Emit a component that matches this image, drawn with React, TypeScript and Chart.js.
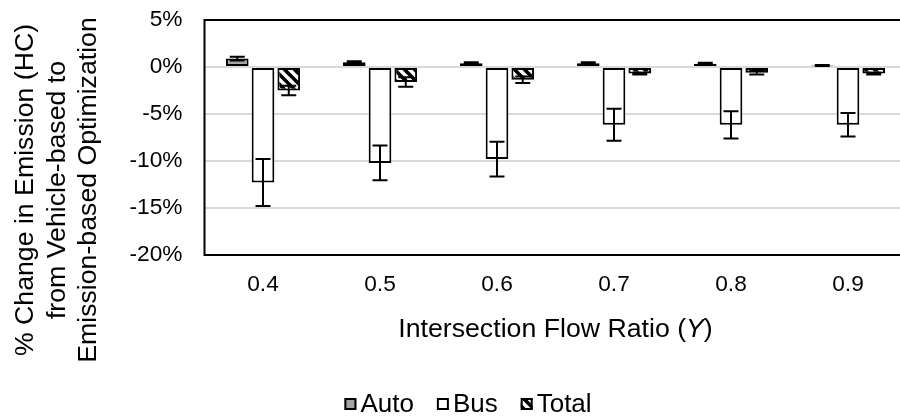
import React, { useEffect, useRef } from "react";
import { Chart, registerables } from "chart.js";

Chart.register(...registerables);

const categories = ["0.4", "0.5", "0.6", "0.7", "0.8", "0.9"];
const autoValues = [0.9, 0.5, 0.4, 0.4, 0.35, 0.15];
const autoErrors = [0.2, 0.1, 0.1, 0.1, 0.1, 0.05];
const busValues = [-12.3, -10.2, -9.8, -6.15, -6.15, -6.15];
const busErrors = [2.5, 1.85, 1.85, 1.7, 1.45, 1.25];
const totalValues = [-2.5, -1.6, -1.35, -0.7, -0.6, -0.7];
const totalErrors = [0.5, 0.5, 0.35, 0.1, 0.2, 0.1];
const yMin = -20;
const yMax = 5;
const yStep = 5;
const seriesLabels = ["Auto", "Bus", "Total"];
const yTitleLines = [
  "% Change in Emission (HC)",
  "from Vehicle-based to",
  "Emission-based Optimization",
];
const xTitleParts = [
  { text: "Intersection Flow Ratio (", italic: false },
  { text: "Y", italic: true },
  { text: ")", italic: false },
];

const FONT = "'Liberation Sans', Arial, Helvetica, sans-serif";
const TICK_SIZE = 22.7;
const TITLE_SIZE = 26.7;
const LEGEND_SIZE = 26;

function makeHatch(): CanvasPattern | string {
  const s = 10;
  const c = document.createElement("canvas");
  c.width = s;
  c.height = s;
  const g = c.getContext("2d");
  if (!g) return "#000";
  g.fillStyle = "#000";
  g.fillRect(0, 0, s, s);
  g.strokeStyle = "#fff";
  g.lineWidth = 3.5;
  g.beginPath();
  g.moveTo(-s, -s);
  g.lineTo(2 * s, 2 * s);
  g.moveTo(0, -s);
  g.lineTo(2 * s, s);
  g.moveTo(-s, 0);
  g.lineTo(s, 2 * s);
  g.stroke();
  const p = g.createPattern(c, "repeat");
  return p || "#000";
}

const errorBarPlugin = {
  id: "errorBars",
  afterDatasetsDraw(chart: any) {
    const ctx = chart.ctx;
    const ys = chart.scales.y;
    chart.data.datasets.forEach((ds: any, i: number) => {
      const meta = chart.getDatasetMeta(i);
      meta.data.forEach((bar: any, j: number) => {
        const v = ds.data[j];
        const e = ds.errors[j];
        const x = bar.x;
        const yt = ys.getPixelForValue(v + e);
        const yb = ys.getPixelForValue(v - e);
        ctx.save();
        ctx.strokeStyle = "#000";
        ctx.lineWidth = 2;
        ctx.beginPath();
        ctx.moveTo(x, yt);
        ctx.lineTo(x, yb);
        ctx.moveTo(x - 7.5, yt);
        ctx.lineTo(x + 7.5, yt);
        ctx.moveTo(x - 7.5, yb);
        ctx.lineTo(x + 7.5, yb);
        ctx.stroke();
        ctx.restore();
      });
    });
  },
};

const framePlugin = {
  id: "frame",
  afterDraw(chart: any) {
    const { ctx, chartArea } = chart;
    ctx.save();
    ctx.strokeStyle = "#000";
    ctx.lineWidth = 2;
    ctx.strokeRect(
      chartArea.left,
      chartArea.top,
      chartArea.right - chartArea.left,
      chartArea.bottom - chartArea.top
    );
    ctx.restore();
  },
};

const titlesPlugin = {
  id: "titles",
  afterDraw(chart: any) {
    const { ctx, chartArea } = chart;
    ctx.save();
    ctx.fillStyle = "#000";
    const widths = xTitleParts.map((p) => {
      ctx.font = `${p.italic ? "italic " : ""}${TITLE_SIZE}px ${FONT}`;
      return ctx.measureText(p.text).width;
    });
    const tw = widths.reduce((a, b) => a + b, 0);
    let x = (chartArea.left + chartArea.right) / 2 - tw / 2;
    ctx.textBaseline = "alphabetic";
    ctx.textAlign = "left";
    xTitleParts.forEach((p, i) => {
      ctx.font = `${p.italic ? "italic " : ""}${TITLE_SIZE}px ${FONT}`;
      ctx.fillText(p.text, x, 337);
      x += widths[i];
    });
    ctx.font = `${TITLE_SIZE}px ${FONT}`;
    ctx.textAlign = "center";
    const baseX = 33;
    const lineH = 31.5;
    yTitleLines.forEach((line, i) => {
      ctx.save();
      ctx.translate(baseX + i * lineH, 190);
      ctx.rotate(-Math.PI / 2);
      ctx.fillText(line, 0, 0);
      ctx.restore();
    });
    ctx.restore();
  },
};

const legendPlugin = {
  id: "customLegend",
  afterDraw(chart: any) {
    const ctx = chart.ctx;
    ctx.save();
    ctx.font = `${LEGEND_SIZE}px ${FONT}`;
    const box = 12;
    const gapBox = 4;
    const gapItem = 23;
    const dss = chart.data.datasets;
    const widths = dss.map(
      (ds: any) => box + gapBox + ctx.measureText(ds.label).width
    );
    const total =
      widths.reduce((a: number, b: number) => a + b, 0) +
      gapItem * (widths.length - 1);
    let x = 468 - total / 2;
    const yc = 404;
    ctx.textBaseline = "middle";
    ctx.textAlign = "left";
    dss.forEach((ds: any, i: number) => {
      ctx.fillStyle = ds.backgroundColor;
      ctx.fillRect(x, yc - box / 2, box, box);
      ctx.strokeStyle = "#000";
      ctx.lineWidth = 2;
      ctx.strokeRect(x + 1, yc - box / 2 + 1, box - 2, box - 2);
      ctx.fillStyle = "#000";
      ctx.fillText(ds.label, x + box + gapBox, yc + 1);
      x += widths[i] + gapItem;
    });
    ctx.restore();
  },
};

export default function App() {
  const ref = useRef<HTMLCanvasElement>(null);

  useEffect(() => {
    const canvas = ref.current;
    if (!canvas) return;
    const hatch = makeHatch();
    const common = {
      borderColor: "#000",
      borderWidth: 2,
      borderSkipped: false,
      categoryPercentage: 0.66,
      barPercentage: 0.88,
    };
    const chart = new Chart(canvas, {
      type: "bar",
      data: {
        labels: categories,
        datasets: [
          {
            label: seriesLabels[0],
            data: autoValues,
            errors: autoErrors,
            backgroundColor: "#a5a5a5",
            ...common,
          } as any,
          {
            label: seriesLabels[1],
            data: busValues,
            errors: busErrors,
            backgroundColor: "#ffffff",
            ...common,
          } as any,
          {
            label: seriesLabels[2],
            data: totalValues,
            errors: totalErrors,
            backgroundColor: hatch,
            ...common,
          } as any,
        ],
      },
      options: {
        responsive: false,
        maintainAspectRatio: false,
        animation: false,
        layout: { padding: { top: 20, right: 3.5, left: 0, bottom: 0 } },
        plugins: {
          legend: { display: false },
          tooltip: { enabled: false },
          title: { display: false },
          subtitle: { display: false },
        },
        scales: {
          x: {
            grid: { display: false, drawTicks: false },
            border: { display: false },
            ticks: {
              color: "#000",
              padding: 16,
              font: { family: FONT, size: TICK_SIZE },
            },
            afterFit(scale: any) {
              scale.height = 161;
              scale.paddingLeft = 0;
              scale.paddingRight = 0;
            },
          },
          y: {
            min: yMin,
            max: yMax,
            grid: { color: "#d9d9d9", lineWidth: 2, drawTicks: false },
            border: { display: false },
            ticks: {
              stepSize: yStep,
              color: "#000",
              padding: 22,
              font: { family: FONT, size: TICK_SIZE },
              callback: (v: any) => `${v}%`,
            },
            afterFit(scale: any) {
              scale.width = 204.5;
              scale.paddingTop = 0;
              scale.paddingBottom = 0;
            },
          },
        },
      } as any,
      plugins: [framePlugin, errorBarPlugin, titlesPlugin, legendPlugin],
    });
    return () => chart.destroy();
  }, []);

  return (
    <div
      style={{
        position: "fixed",
        left: 0,
        top: 0,
        width: 900,
        height: 416,
        overflow: "hidden",
        background: "#fff",
      }}
    >
      <canvas
        ref={ref}
        width={910}
        height={416}
        style={{ display: "block", width: 910, height: 416 }}
      />
    </div>
  );
}
